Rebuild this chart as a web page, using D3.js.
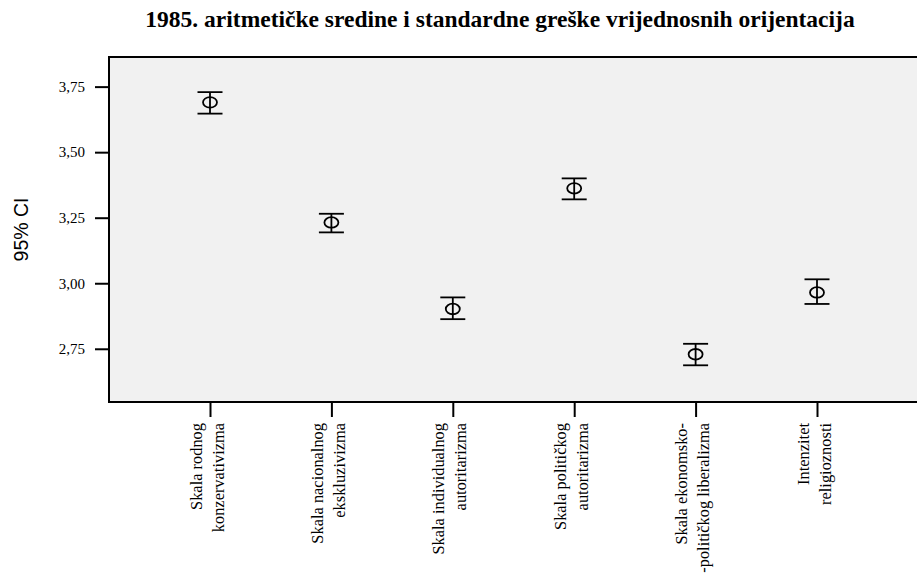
<!DOCTYPE html>
<html><head><meta charset="utf-8">
<script src="https://cdn.jsdelivr.net/npm/d3@7"></script>
<style>body{margin:0;background:#fff}svg{display:block}</style>
</head><body>
<svg id="chart" width="917" height="573"></svg>
<script>
const categories = [
  ["Skala rodnog", "konzervativizma"],
  ["Skala nacionalnog", "ekskluzivizma"],
  ["Skala individualnog", "autoritarizma"],
  ["Skala političkog", "autoritarizma"],
  ["Skala ekonomsko-", "-političkog liberalizma"],
  ["Intenzitet", "religioznosti"]
];
const means = [3.690, 3.232, 2.902, 3.362, 2.729, 2.965];
const lower = [3.647, 3.194, 2.863, 3.320, 2.687, 2.921];
const upper = [3.729, 3.265, 2.946, 3.400, 2.769, 3.015];
const yTicks = [2.75, 3.00, 3.25, 3.50, 3.75];
const title = "1985. aritmetičke sredine i standardne greške vrijednosnih orijentacija";
const yTitle = "95% CI";

const svg = d3.select("#chart");
const plot = {left: 109, top: 57, right: 940, bottom: 402};
const keys = categories.map((c, i) => i);

const x = d3.scalePoint().domain(keys).range([210, 817]);
const y = d3.scaleLinear().domain([2.547, 3.863]).range([plot.bottom, plot.top]);

// plot background
svg.append("rect")
  .attr("x", plot.left).attr("y", plot.top)
  .attr("width", plot.right - plot.left).attr("height", plot.bottom - plot.top)
  .attr("fill", "#f1f1f1").attr("stroke", "#000").attr("stroke-width", 2);

// title
svg.append("text")
  .attr("x", 500).attr("y", 27)
  .attr("text-anchor", "middle")
  .attr("font-family", "Liberation Serif, Times New Roman, serif")
  .attr("font-weight", "bold").attr("font-size", 23.5)
  .text(title);

// y axis
const yAxis = svg.append("g")
  .attr("transform", `translate(${plot.left},0)`)
  .call(d3.axisLeft(y).tickValues(yTicks).tickSize(14).tickPadding(10)
    .tickFormat(d => d3.format(".2f")(d).replace(".", ",")));
yAxis.select(".domain").remove();
yAxis.selectAll(".tick line").attr("stroke", "#000").attr("stroke-width", 2);
yAxis.selectAll(".tick text")
  .attr("font-family", "Liberation Serif, Times New Roman, serif")
  .attr("font-size", 15).attr("fill", "#000");

// y title
svg.append("text")
  .attr("transform", `translate(28,${(plot.top + plot.bottom) / 2}) rotate(-90)`)
  .attr("text-anchor", "middle")
  .attr("font-family", "Liberation Sans, Arial, sans-serif")
  .attr("font-size", 19.5)
  .text(yTitle);

// x axis
const xAxis = svg.append("g")
  .attr("transform", `translate(0,${plot.bottom})`)
  .call(d3.axisBottom(x).tickSize(15).tickFormat(""));
xAxis.select(".domain").remove();
xAxis.selectAll(".tick line").attr("stroke", "#000").attr("stroke-width", 2);
xAxis.selectAll(".tick text").remove();
xAxis.selectAll(".tick").each(function(d) {
  const t = d3.select(this).append("text")
    .attr("transform", "translate(0,21) rotate(-90)")
    .attr("text-anchor", "end")
    .attr("font-family", "Liberation Serif, Times New Roman, serif")
    .attr("font-size", 16.4).attr("fill", "#000");
  t.append("tspan").attr("x", 0).attr("y", -9).text(categories[d][0]);
  t.append("tspan").attr("x", 0).attr("y", 13).text(categories[d][1]);
});

// error bars
const g = svg.append("g").attr("stroke", "#000").attr("stroke-width", 1.8).attr("fill", "none");
keys.forEach(i => {
  const cx = x(i);
  g.append("line").attr("x1", cx).attr("x2", cx).attr("y1", y(upper[i])).attr("y2", y(lower[i]));
  g.append("line").attr("x1", cx - 12.5).attr("x2", cx + 12.5).attr("y1", y(upper[i])).attr("y2", y(upper[i]));
  g.append("line").attr("x1", cx - 12.5).attr("x2", cx + 12.5).attr("y1", y(lower[i])).attr("y2", y(lower[i]));
  g.append("ellipse").attr("cx", cx).attr("cy", y(means[i])).attr("rx", 7).attr("ry", 5.3);
});
</script>
</body></html>
